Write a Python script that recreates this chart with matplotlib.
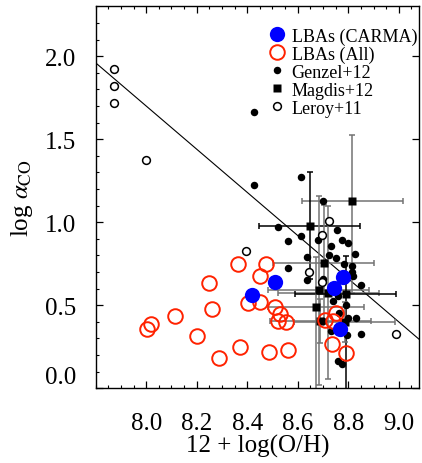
import numpy as np
import matplotlib
matplotlib.use('Agg')
import matplotlib.pyplot as plt
from matplotlib.ticker import MultipleLocator

plt.rcParams['font.family'] = ['Liberation Serif', 'DejaVu Serif']
plt.rcParams['mathtext.fontset'] = 'stix'

## LBAs observed with CARMA
carma_x = [8.417, 8.509, 8.742, 8.78, 8.766]
carma_y = [0.562, 0.642, 0.606, 0.67, 0.356]

## all LBAs
lba_x = [8.003, 8.019, 8.115, 8.2, 8.249, 8.26, 8.289, 8.362, 8.371, 8.476, 8.452, 8.404,
         8.452, 8.509, 8.529, 8.52, 8.552, 8.487, 8.562, 8.707, 8.74, 8.753, 8.737, 8.79]
lba_y = [0.356, 0.39, 0.436, 0.316, 0.636, 0.476, 0.182, 0.746, 0.246, 0.746, 0.676, 0.516,
         0.52, 0.492, 0.446, 0.406, 0.40, 0.216, 0.232, 0.412, 0.406, 0.456, 0.266, 0.212]

## Genzel+12
genzel_x = [8.428, 8.428, 8.612, 8.699, 8.52, 8.754, 8.563, 8.611, 8.68, 8.774, 8.80, 8.733,
            8.638, 8.725, 8.753, 8.826, 8.56, 8.783, 8.815, 8.819, 8.638, 8.699, 8.85, 8.74,
            8.79, 8.762, 8.80, 8.83, 8.70, 8.73, 8.795, 8.85, 8.758, 8.777, 8.815, 8.76]
genzel_y = [1.665, 1.227, 1.272, 1.13, 0.97, 0.954, 0.886, 0.92, 0.892, 0.894, 0.876, 0.856,
            0.792, 0.80, 0.786, 0.808, 0.724, 0.748, 0.736, 0.676, 0.654, 0.656, 0.622, 0.526,
            0.50, 0.456, 0.426, 0.426, 0.406, 0.346, 0.324, 0.33, 0.166, 0.148, 0.70, 0.556]

## Magdis+12
magdis_x = [8.815, 8.647, 8.703, 8.684, 8.72, 8.79, 8.671, 8.69, 8.786]
magdis_y = [1.126, 0.98, 0.756, 0.59, 0.576, 0.566, 0.492, 0.405, 0.40]
magdis_xerr = [0.2, 0.2, 0.2, 0.2, 0.2, 0.2, 0.19, 0.2, 0.2]
magdis_ylo = [0.55, 0.32, 0.35, 0.57, 0.52, 0.62, 0.6, 0.13, 0.12]
magdis_yhi = [0.40, 0.32, 0.35, 0.57, 0.52, 0.23, 0.3, 0.13, 0.12]
magdis_dark = [False, True, False, False, False, True, False, False, False]

## Leroy+11
leroy_x = [7.871, 7.871, 7.871, 8.0, 8.395, 8.722, 8.696, 8.643, 8.696, 8.99]
leroy_y = [1.926, 1.82, 1.72, 1.376, 0.826, 1.005, 0.926, 0.702, 0.64, 0.326]

## relation line
fit_slope = -1.3
fit_icpt = 12.1

fig = plt.figure(figsize=(4.22, 4.64), dpi=100)
ax = fig.add_axes([0.2268, 0.161, 0.766, 0.823])

fx = np.array([7.8, 9.08])
ax.plot(fx, fit_icpt + fit_slope*fx, '-k', lw=0.8, zorder=1)

for k in range(len(magdis_x)):
  col = 'k' if magdis_dark[k] else '0.45'
  ax.errorbar(magdis_x[k], magdis_y[k], xerr=magdis_xerr[k],
              yerr=[[magdis_ylo[k]], [magdis_yhi[k]]], fmt='none',
              ecolor=col, elinewidth=1.1, capsize=2.5, capthick=1.1, zorder=2)

ax.plot(genzel_x, genzel_y, 'o', color='k', ms=5.4, mec='none', zorder=3, label='Genzel+12')
ax.plot(magdis_x, magdis_y, 's', color='k', ms=5.8, mec='none', zorder=3, label='Magdis+12')
ax.plot(leroy_x, leroy_y, 'o', mfc='white', mec='k', ms=5.6, mew=1.1, zorder=3, label='Leroy+11')
ax.plot(lba_x, lba_y, 'o', mfc='none', mec='#ff2200', ms=10.5, mew=1.4, zorder=4, label='LBAs (All)')
ax.plot(carma_x, carma_y, 'o', color='#0000ff', ms=11, mec='none', zorder=5, label='LBAs (CARMA)')

ax.set_xlim(7.8, 9.08)
ax.set_ylim(0.0, 2.3)
ax.set_xticks([8.0, 8.2, 8.4, 8.6, 8.8, 9.0])
ax.set_yticks([0.0, 0.5, 1.0, 1.5, 2.0])
ax.xaxis.set_minor_locator(MultipleLocator(0.05))
ax.yaxis.set_minor_locator(MultipleLocator(0.1))
ax.tick_params(which='both', direction='in', top=True, right=True, labelsize=18)
ax.tick_params(which='major', length=5, width=0.9)
ax.tick_params(which='minor', length=2.5, width=0.8, right=False)
ax.tick_params(axis='x', pad=17)
ax.tick_params(axis='y', pad=14)
for sp in ax.spines.values():
  sp.set_linewidth(1.0)
ax.yaxis.get_major_ticks()[0].label1.set_verticalalignment('bottom')

ax.set_xlabel('12 + log(O/H)', fontsize=18, labelpad=0)
ax.set_ylabel(r'log $\alpha_{\rm CO}$', fontsize=18, labelpad=7)

h, l = ax.get_legend_handles_labels()
order = [4, 3, 0, 1, 2]
ax.legend([h[i] for i in order], [l[i] for i in order], loc='upper right',
          bbox_to_anchor=(1.0, 0.95), frameon=False, fontsize=13, handlelength=0.8,
          handletextpad=0.4, labelspacing=0.05, borderpad=0, borderaxespad=0.1)

fig.savefig('out.png', dpi=100)
plt.close()
